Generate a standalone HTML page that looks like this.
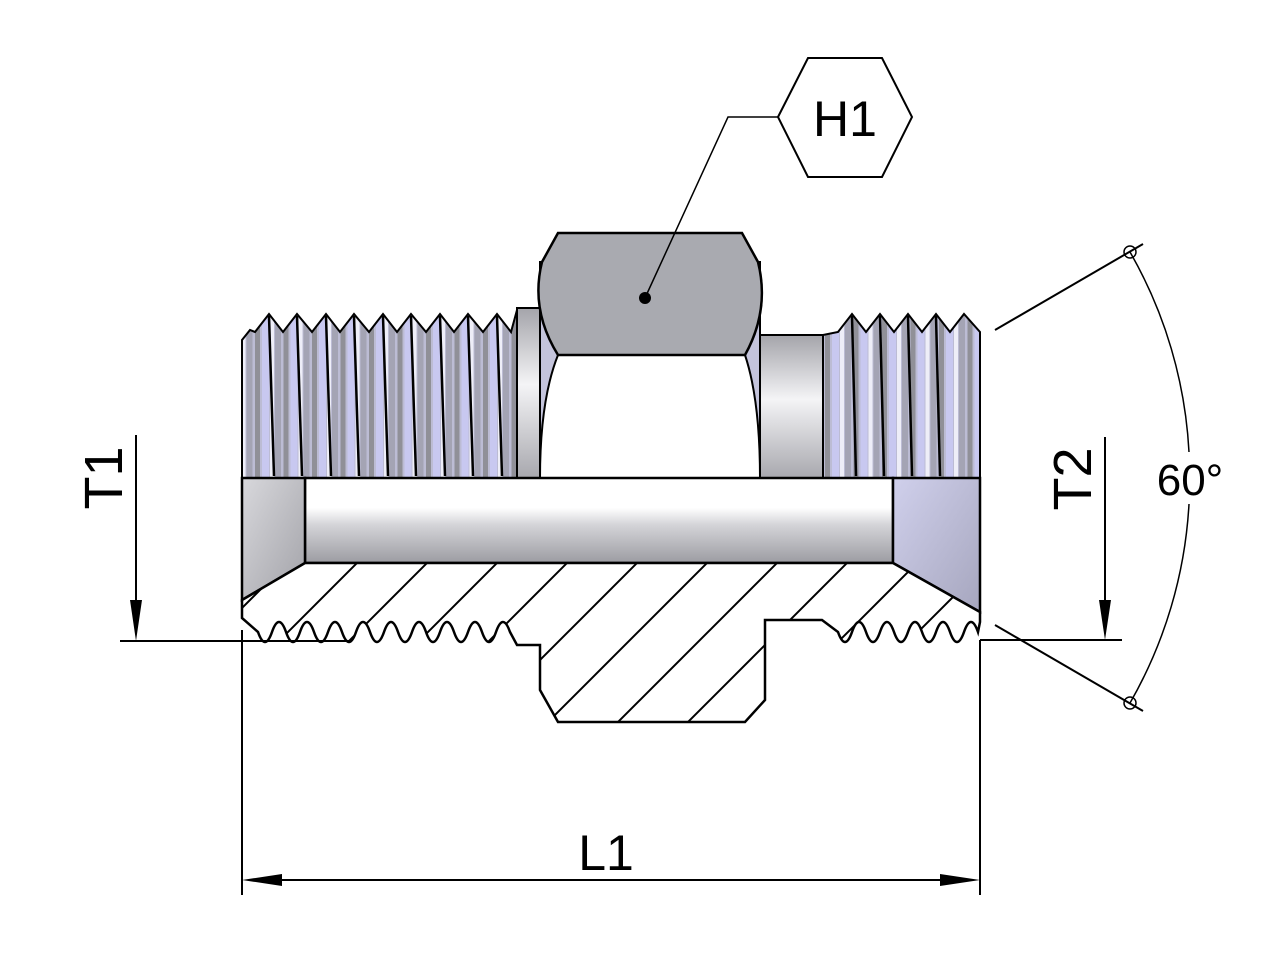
<!DOCTYPE html>
<html><head><meta charset="utf-8"><style>
html,body{margin:0;padding:0;background:#fff;}
svg{display:block;}
text{font-family:"Liberation Sans",sans-serif;fill:#000;}
</style></head><body>
<svg width="1275" height="960" viewBox="0 0 1275 960" xmlns="http://www.w3.org/2000/svg">
<defs>
  <pattern id="stripes" patternUnits="userSpaceOnUse" x="255" y="0" width="28.5" height="10">
    <rect width="28.5" height="10" fill="#bcbcd4"/>
    <rect x="0" width="5" height="10" fill="#909098"/>
    <rect x="7" width="7" height="10" fill="#c8c8f0"/>
    <rect x="15" width="4" height="10" fill="#eeeef8"/>
    <rect x="20" width="6" height="10" fill="#a4a4b4"/>
  </pattern>
  <linearGradient id="bore" x1="0" y1="0" x2="0" y2="1">
    <stop offset="0" stop-color="#ffffff"/>
    <stop offset="0.35" stop-color="#ffffff"/>
    <stop offset="0.55" stop-color="#d4d4d8"/>
    <stop offset="1" stop-color="#9c9ca2"/>
  </linearGradient>
  <linearGradient id="plain" x1="0" y1="0" x2="0" y2="1">
    <stop offset="0" stop-color="#a4a4aa"/>
    <stop offset="0.45" stop-color="#f4f4f6"/>
    <stop offset="1" stop-color="#a8a8ae"/>
  </linearGradient>
  <linearGradient id="lcone" x1="0" y1="0" x2="1" y2="1">
    <stop offset="0" stop-color="#d8d8dc"/>
    <stop offset="1" stop-color="#a2a2a8"/>
  </linearGradient>
  <linearGradient id="rcone" x1="0" y1="0" x2="1" y2="1">
    <stop offset="0" stop-color="#d0d0ec"/>
    <stop offset="1" stop-color="#a6a6be"/>
  </linearGradient>
  <pattern id="hatch" patternUnits="userSpaceOnUse" width="70" height="70" x="10" y="0">
    <rect width="70" height="70" fill="#fff"/>
    <line x1="0" y1="70" x2="70" y2="0" stroke="#000" stroke-width="2"/>
    <line x1="-10" y1="10" x2="10" y2="-10" stroke="#000" stroke-width="2"/>
    <line x1="60" y1="80" x2="80" y2="60" stroke="#000" stroke-width="2"/>
  </pattern>
</defs>

<!-- left thread -->
<path d="M242,340 L250,330 L255,332 L269,314 L283,332 L297,314 L312,332 L326,314 L340,332 L354,314 L369,332 L383,314 L397,332 L411,314 L426,332 L440,314 L454,332 L468,314 L483,332 L497,314 L511,332 L517,310 L517,478 L242,478 Z" fill="url(#stripes)" stroke="#000" stroke-width="2"/>
<g stroke="#000" stroke-width="2.5">
  <line x1="269" y1="316" x2="274" y2="476"/><line x1="297" y1="316" x2="302" y2="476"/>
  <line x1="326" y1="316" x2="331" y2="476"/><line x1="354" y1="316" x2="359" y2="476"/>
  <line x1="383" y1="316" x2="388" y2="476"/><line x1="411" y1="316" x2="416" y2="476"/>
  <line x1="440" y1="316" x2="445" y2="476"/><line x1="468" y1="316" x2="473" y2="476"/>
  <line x1="497" y1="316" x2="502" y2="476"/>
</g>
<rect x="517" y="308" width="24" height="170" fill="url(#plain)" stroke="#000" stroke-width="2"/>

<!-- right neck + thread -->
<rect x="760" y="335" width="63" height="143" fill="url(#plain)" stroke="#000" stroke-width="2"/>
<path d="M823,335 L838,332 L852,314 L866,332 L880,314 L894,332 L908,314 L922,332 L936,314 L950,332 L964,314 L980,332 L980,478 L823,478 Z" fill="url(#stripes)" stroke="#000" stroke-width="2"/>
<g stroke="#000" stroke-width="2.5">
  <line x1="852" y1="316" x2="856" y2="476"/><line x1="880" y1="316" x2="884" y2="476"/>
  <line x1="908" y1="316" x2="912" y2="476"/><line x1="936" y1="316" x2="940" y2="476"/>
</g>

<!-- nut -->
<rect x="540" y="262" width="220" height="216" fill="#c4c4dc" stroke="#000" stroke-width="2"/>
<path d="M558,355 Q540,400 540,478 L760,478 Q760,400 745,355 Z" fill="#fff" stroke="#000" stroke-width="2"/>
<path d="M558,233 L742,233 L758,262 Q770,310 745,355 L558,355 Q530,310 542,262 Z" fill="#a9aab0" stroke="#000" stroke-width="2.5"/>

<!-- bore -->
<rect x="305" y="478" width="588" height="85" fill="url(#bore)" stroke="#000" stroke-width="2.5"/>
<path d="M242,478 L305,478 L305,563 L242,600 Z" fill="url(#lcone)" stroke="#000" stroke-width="2.5"/>
<path d="M893,478 L980,478 L980,612 L893,563 Z" fill="url(#rcone)" stroke="#000" stroke-width="2.5"/>

<!-- hatched section -->
<path d="M242,600 L242,618 L258,632 q7,20 14,0 q7,-20 14,0 q7,20 14,0 q7,-20 14,0 q7,20 14,0 q7,-20 14,0 q7,20 14,0 q7,-20 14,0 q7,20 14,0 q7,-20 14,0 q7,20 14,0 q7,-20 14,0 q7,20 14,0 q7,-20 14,0 q7,20 14,0 q7,-20 14,0 q7,20 14,0 q7,-20 14,0 L517,645 L540,645 L540,690 L558,722 L745,722 L765,700 L765,620 L822,620 L838,632 q7,20 14,0 q7,-20 14,0 q7,20 14,0 q7,-20 14,0 q7,20 14,0 q7,-20 14,0 q7,20 14,0 q7,-20 14,0 q7,20 14,0 q7,-20 14,0 L980,622 L980,612 L893,563 L305,563 Z" fill="url(#hatch)" stroke="#000" stroke-width="2.5"/>

<!-- H1 leader -->
<polygon points="778,117 808,58 882,58 912,117 882,177 808,177" fill="#fff" stroke="#000" stroke-width="2"/>
<text x="845" y="136" font-size="50" text-anchor="middle">H1</text>
<polyline points="778,117 728,117 645,298" fill="none" stroke="#000" stroke-width="1.5"/>
<circle cx="645" cy="298" r="6" fill="#000"/>

<!-- dimension lines -->
<g stroke="#000" stroke-width="2" fill="none">
  <line x1="120" y1="641" x2="350" y2="641"/>
  <line x1="136" y1="435" x2="136" y2="605"/>
  <line x1="980" y1="640" x2="1122" y2="640"/>
  <line x1="1105" y1="437" x2="1105" y2="605"/>
  <line x1="242" y1="630" x2="242" y2="895"/>
  <line x1="980" y1="640" x2="980" y2="895"/>
  <line x1="280" y1="880" x2="940" y2="880"/>
  <line x1="995" y1="330" x2="1143" y2="244"/>
  <line x1="995" y1="625" x2="1143" y2="711"/>
  <path d="M1130,252 A450,450 0 0 1 1189,452" stroke-width="1.5"/>
  <path d="M1189,504 A450,450 0 0 1 1130,703" stroke-width="1.5"/>
</g>
<circle cx="1130" cy="252" r="6" fill="none" stroke="#000" stroke-width="1.5"/>
<circle cx="1130" cy="703" r="6" fill="none" stroke="#000" stroke-width="1.5"/>
<polygon points="130,600 142,600 136,641" fill="#000"/>
<polygon points="1099,600 1111,600 1105,640" fill="#000"/>
<polygon points="242,880 282,874 282,886" fill="#000"/>
<polygon points="980,880 940,874 940,886" fill="#000"/>

<text transform="translate(122,478) rotate(-90)" font-size="54" text-anchor="middle">T1</text>
<text transform="translate(1091,479) rotate(-90)" font-size="54" text-anchor="middle">T2</text>
<text x="606" y="870" font-size="50" text-anchor="middle">L1</text>
<text x="1190" y="495" font-size="44" text-anchor="middle">60°</text>
</svg>
</body></html>
